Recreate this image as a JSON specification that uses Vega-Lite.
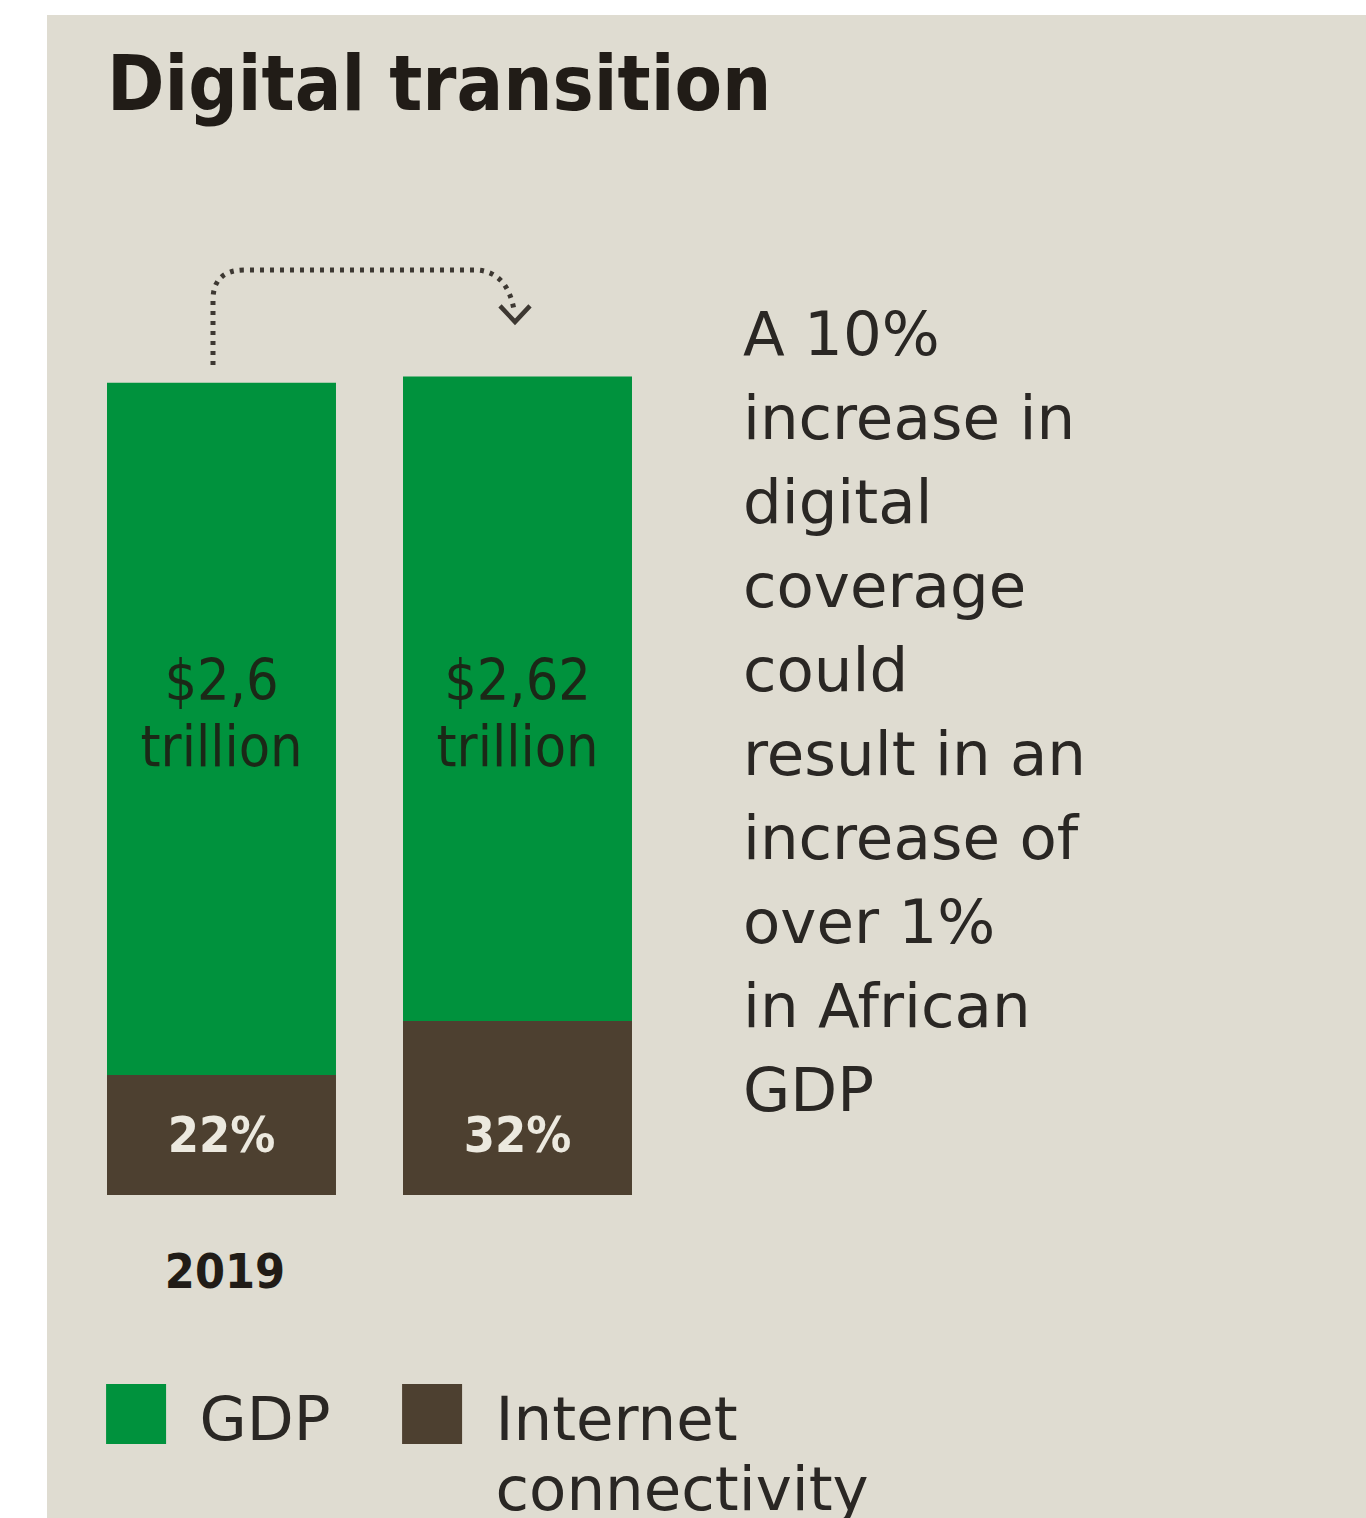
{
  "$schema": "https://vega.github.io/schema/vega-lite/v6.json",
  "autosize": {"type": "none"},
  "width": 1319,
  "height": 1503,
  "padding": {"left": 47, "top": 15, "right": 0, "bottom": 0},
  "background": "#ffffff",
  "config": {"view": {"fill": "#dfdcd1", "stroke": null}},
  "data": {
    "values": [
      {"scenario": "2019", "segment": "Internet connectivity", "value": 0.384, "label": "22%"},
      {"scenario": "2019", "segment": "GDP", "value": 2.216, "label": "$2,6\ntrillion"},
      {"scenario": "+10% digital coverage", "segment": "Internet connectivity", "value": 0.557, "label": "32%"},
      {"scenario": "+10% digital coverage", "segment": "GDP", "value": 2.063, "label": "$2,62\ntrillion"}
    ]
  },
  "encoding": {
    "x": {
      "field": "scenario", "type": "nominal",
      "scale": {"domain": ["2019", "+10% digital coverage", "note"], "range": [60, 881], "paddingInner": 0.2264, "paddingOuter": 0},
      "axis": null
    }
  },
  "layer": [
    {
      "mark": {"type": "bar"},
      "encoding": {
        "y": {"field": "value", "type": "quantitative", "stack": "zero",
              "scale": {"domain": [-1.034, 3.777], "nice": false, "zero": false}, "axis": null},
        "color": {"field": "segment", "type": "nominal",
                  "scale": {"domain": ["GDP", "Internet connectivity"], "range": ["#00923d", "#4d4030"]}, "legend": null},
        "order": {"field": "segment", "sort": "descending"}
      }
    },
    {
      "transform": [{"filter": "datum.segment === 'GDP'"}],
      "mark": {"type": "text", "align": "center", "baseline": "alphabetic", "lineBreak": "\n", "lineHeight": 66,
               "font": "DejaVu Sans Condensed", "fontSize": 57, "color": "#1b2817"},
      "encoding": {
        "y": {"datum": 1.585, "type": "quantitative"},
        "text": {"field": "label"}
      }
    },
    {
      "transform": [{"filter": "datum.segment === 'Internet connectivity'"}],
      "mark": {"type": "text", "align": "center", "baseline": "alphabetic",
               "font": "DejaVu Sans Condensed", "fontWeight": "bold", "fontSize": 50, "color": "#ece9df"},
      "encoding": {
        "y": {"datum": 0.138, "type": "quantitative"},
        "text": {"field": "label"}
      }
    },
    {
      "data": {"values": [{}]},
      "mark": {"type": "text", "align": "left", "baseline": "alphabetic",
               "font": "DejaVu Sans Condensed", "fontWeight": "bold", "fontSize": 77, "color": "#211c17",
               "text": "Digital transition"},
      "encoding": {
        "x": {"datum": "2019", "type": "nominal", "bandPosition": 0},
        "y": {"datum": 3.473, "type": "quantitative"}
      }
    },
    {
      "data": {"values": [{}]},
      "mark": {"type": "text", "align": "center", "baseline": "alphabetic",
               "font": "DejaVu Sans Condensed", "fontWeight": "bold", "fontSize": 48, "color": "#211c17",
               "text": "2019"},
      "encoding": {
        "x": {"datum": "2019", "type": "nominal", "bandPosition": 0.515},
        "y": {"datum": -0.298, "type": "quantitative"}
      }
    },
    {
      "data": {"values": [{}]},
      "mark": {"type": "text", "align": "left", "baseline": "alphabetic", "lineBreak": "\n", "lineHeight": 84,
               "font": "DejaVu Sans", "fontSize": 61, "color": "#2a2724",
               "text": "A 10%\nincrease in\ndigital\ncoverage\ncould\nresult in an\nincrease of\nover 1%\nin African\nGDP"},
      "encoding": {
        "x": {"datum": "note", "type": "nominal", "bandPosition": 0.192},
        "y": {"datum": 2.689, "type": "quantitative"}
      }
    },
    {
      "data": {"values": [{}]},
      "mark": {"type": "point", "filled": false, "strokeWidth": 5, "strokeDash": [4, 6], "color": "#3d3832", "opacity": 1,
               "shape": "M-0.085,-0.178L-0.085,-0.828Q-0.085,-1.128,0.235,-1.128L2.535,-1.128Q2.855,-1.118,2.925,-0.728",
               "size": 40000},
      "encoding": {
        "x": {"datum": "2019", "type": "nominal", "bandPosition": 0.5},
        "y": {"datum": 2.6, "type": "quantitative"}
      }
    },
    {
      "data": {"values": [{}]},
      "mark": {"type": "point", "filled": false, "strokeWidth": 4.5, "color": "#3d3832", "opacity": 1,
               "shape": "M2.785,-0.768L2.935,-0.608L3.085,-0.768",
               "size": 40000},
      "encoding": {
        "x": {"datum": "2019", "type": "nominal", "bandPosition": 0.5},
        "y": {"datum": 2.6, "type": "quantitative"}
      }
    },
    {
      "data": {"values": [{"segment": "GDP", "slot": "2019"}, {"segment": "Internet connectivity", "slot": "+10% digital coverage"}]},
      "mark": {"type": "point", "shape": "square", "filled": true, "size": 3600, "opacity": 1},
      "encoding": {
        "x": {"field": "slot", "type": "nominal", "bandPosition": 0.127},
        "y": {"datum": -0.701, "type": "quantitative"},
        "color": {"field": "segment", "type": "nominal"}
      }
    },
    {
      "data": {"values": [{"segment": "GDP", "slot": "2019", "text": "GDP"}, {"segment": "Internet connectivity", "slot": "+10% digital coverage", "text": "Internet\nconnectivity"}]},
      "mark": {"type": "text", "align": "left", "baseline": "alphabetic", "lineBreak": "\n", "lineHeight": 70,
               "font": "DejaVu Sans", "fontSize": 61, "color": "#2a2724"},
      "encoding": {
        "x": {"field": "slot", "type": "nominal", "bandPosition": 0.404},
        "y": {"datum": -0.784, "type": "quantitative"},
        "text": {"field": "text"}
      }
    }
  ]
}
